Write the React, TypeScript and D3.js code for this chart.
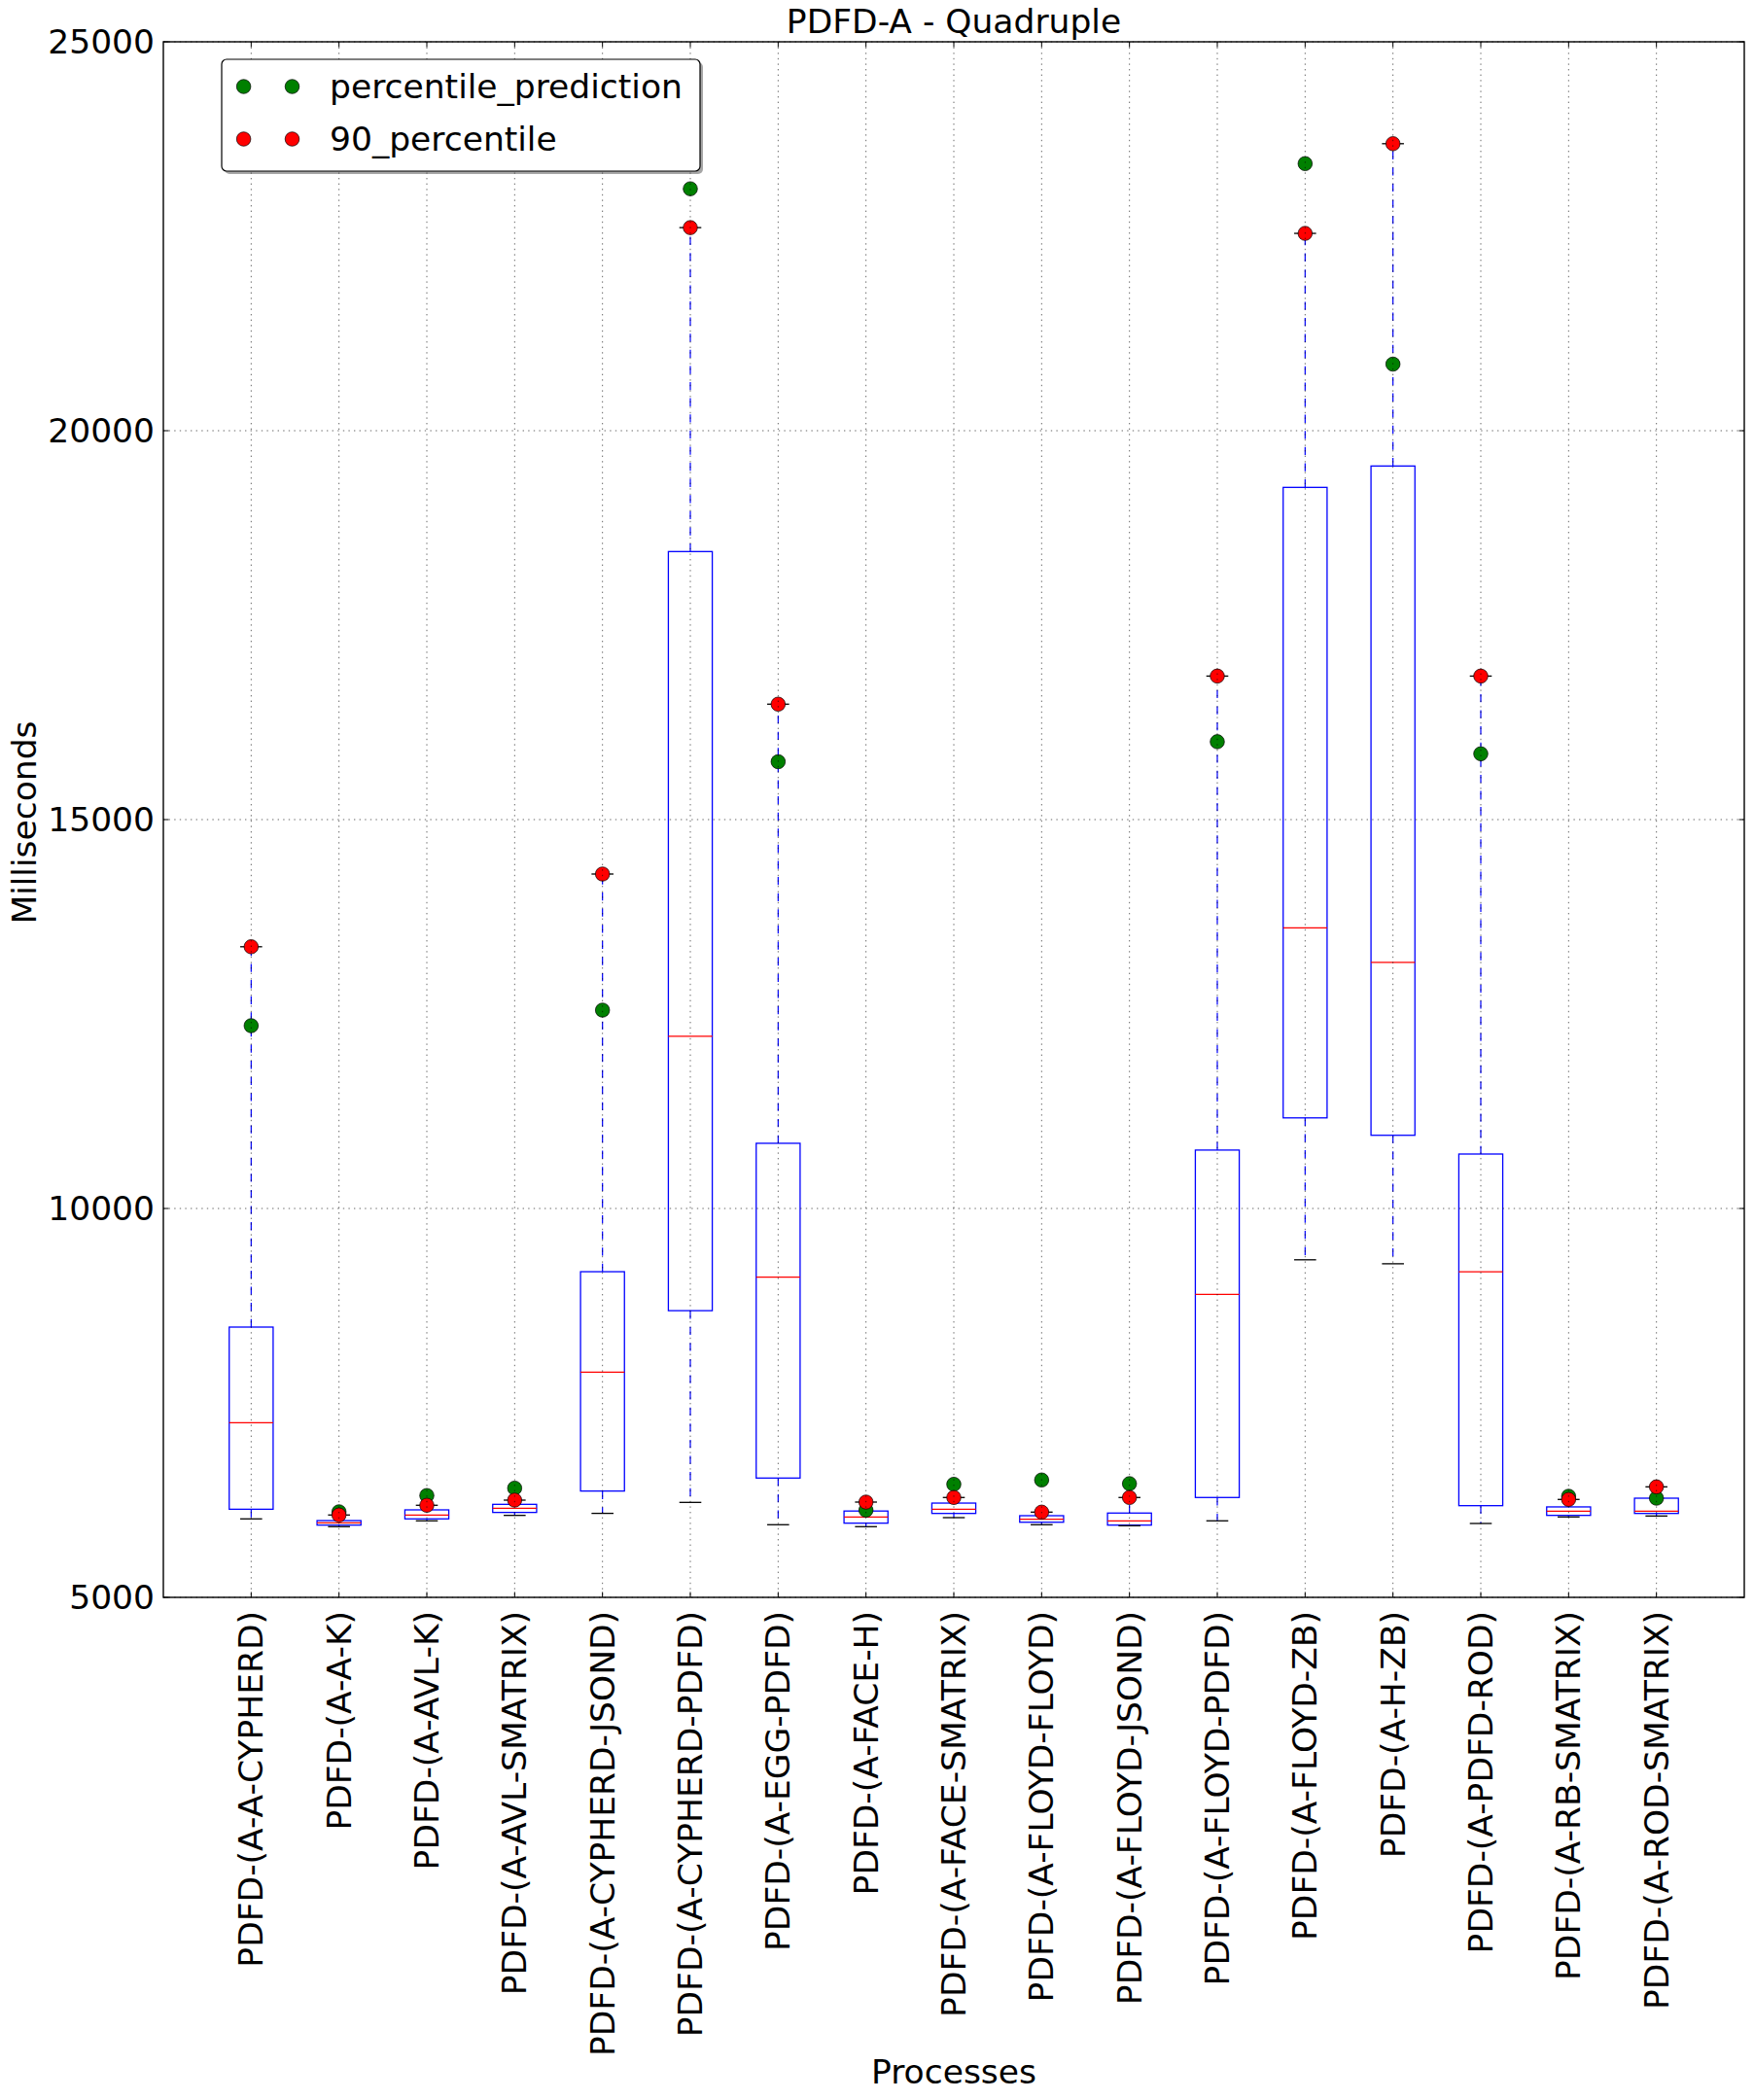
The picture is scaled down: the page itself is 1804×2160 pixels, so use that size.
import React from "react";
import * as d3 from "d3";

const categories = [
  "PDFD-(A-A-CYPHERD)",
  "PDFD-(A-A-K)",
  "PDFD-(A-AVL-K)",
  "PDFD-(A-AVL-SMATRIX)",
  "PDFD-(A-CYPHERD-JSOND)",
  "PDFD-(A-CYPHERD-PDFD)",
  "PDFD-(A-EGG-PDFD)",
  "PDFD-(A-FACE-H)",
  "PDFD-(A-FACE-SMATRIX)",
  "PDFD-(A-FLOYD-FLOYD)",
  "PDFD-(A-FLOYD-JSOND)",
  "PDFD-(A-FLOYD-PDFD)",
  "PDFD-(A-FLOYD-ZB)",
  "PDFD-(A-H-ZB)",
  "PDFD-(A-PDFD-ROD)",
  "PDFD-(A-RB-SMATRIX)",
  "PDFD-(A-ROD-SMATRIX)",
];

const whiskerLow = [6009, 5909, 5984, 6054, 6080, 6221, 5934, 5909, 6025, 5934, 5921, 5984, 9340, 9289, 5950, 6034, 6046];
const q1 = [6133, 5929, 6009, 6092, 6367, 8686, 6534, 5954, 6079, 5966, 5929, 6284, 11165, 10941, 6179, 6054, 6079];
const median = [7246, 5959, 6059, 6146, 7896, 12215, 9116, 6034, 6134, 6004, 5984, 8895, 13609, 13163, 9185, 6108, 6108];
const q3 = [8475, 5987, 6125, 6196, 9187, 18446, 10838, 6110, 6212, 6050, 6084, 10751, 19271, 19546, 10700, 6163, 6275];
const whiskerHigh = [13365, 6059, 6184, 6250, 14300, 22611, 16484, 6225, 6284, 6096, 6284, 16845, 22537, 23690, 16845, 6259, 6421];
const percentile90 = [13365, 6059, 6184, 6250, 14300, 22611, 16484, 6225, 6284, 6096, 6284, 16845, 22537, 23690, 16845, 6259, 6421];
const percentilePrediction = [12350, 6100, 6309, 6404, 12550, 23110, 15744, 6121, 6454, 6509, 6462, 16001, 23434, 20856, 15846, 6300, 6275];

const yTicks = [5000, 10000, 15000, 20000, 25000];

const W = 1804;
const H = 2160;
const L = 168, R = 1794, T = 43, B = 1643;
const FONT = "DejaVu Sans";
const FS = 34.5;

export default function App() {
  const x = d3.scaleLinear().domain([0, categories.length + 1]).range([L, R]);
  const y = d3.scaleLinear().domain([5000, 25000]).range([B, T]);
  const boxHalf = (x(0.5) - x(0)) / 2;
  const capHalf = boxHalf / 2;
  const idx = d3.range(categories.length);
  const tickLen = 5.5;
  const MR = 7.3;

  return (
    <svg width={W} height={H} style={{ position: "absolute", left: 0, top: 0, display: "block", background: "#fff" }}
      fontFamily={FONT}>
      <rect x={0} y={0} width={W} height={H} fill="#fff" />
      {/* boxes */}
      {idx.map((i) => {
        const cx = x(i + 1);
        return (
          <g key={"b" + i}>
            <line x1={cx} x2={cx} y1={y(q3[i])} y2={y(whiskerHigh[i])} stroke="#0000ff" strokeWidth={1.2} strokeDasharray="8.3 8.3" />
            <line x1={cx} x2={cx} y1={y(q1[i])} y2={y(whiskerLow[i])} stroke="#0000ff" strokeWidth={1.2} strokeDasharray="8.3 8.3" />
            <rect x={cx - boxHalf} y={y(q3[i])} width={boxHalf * 2} height={Math.max(0.5, y(q1[i]) - y(q3[i]))}
              fill="none" stroke="#0000ff" strokeWidth={1.3} />
            <line x1={cx - capHalf} x2={cx + capHalf} y1={y(whiskerHigh[i])} y2={y(whiskerHigh[i])} stroke="#000" strokeWidth={1.3} />
            <line x1={cx - capHalf} x2={cx + capHalf} y1={y(whiskerLow[i])} y2={y(whiskerLow[i])} stroke="#000" strokeWidth={1.3} />
            <line x1={cx - boxHalf} x2={cx + boxHalf} y1={y(median[i])} y2={y(median[i])} stroke="#ff0000" strokeWidth={1.3} />
          </g>
        );
      })}
      {/* prediction points */}
      {idx.map((i) => (
        <circle key={"g" + i} cx={x(i + 1)} cy={y(percentilePrediction[i])} r={MR} fill="#008000" stroke="#000" strokeWidth={0.7} />
      ))}
      {idx.map((i) => (
        <circle key={"r" + i} cx={x(i + 1)} cy={y(percentile90[i])} r={MR} fill="#ff0000" stroke="#000" strokeWidth={0.7} />
      ))}
      {/* grid */}
      {idx.map((i) => (
        <line key={"gx" + i} x1={x(i + 1)} x2={x(i + 1)} y1={T} y2={B} stroke="#000" strokeOpacity={0.75} strokeWidth={0.8} strokeDasharray="1.4 4.2" />
      ))}
      {yTicks.map((t) => (
        <line key={"gy" + t} x1={L} x2={R} y1={y(t)} y2={y(t)} stroke="#000" strokeOpacity={0.75} strokeWidth={0.8} strokeDasharray="1.4 4.2" />
      ))}
      {/* ticks */}
      {idx.map((i) => (
        <g key={"tx" + i}>
          <line x1={x(i + 1)} x2={x(i + 1)} y1={B} y2={B - tickLen} stroke="#000" strokeWidth={1} />
          <line x1={x(i + 1)} x2={x(i + 1)} y1={T} y2={T + tickLen} stroke="#000" strokeWidth={1} />
        </g>
      ))}
      {yTicks.map((t) => (
        <g key={"ty" + t}>
          <line x1={L} x2={L + tickLen} y1={y(t)} y2={y(t)} stroke="#000" strokeWidth={1} />
          <line x1={R} x2={R - tickLen} y1={y(t)} y2={y(t)} stroke="#000" strokeWidth={1} />
        </g>
      ))}
      {/* frame */}
      <rect x={L} y={T} width={R - L} height={B - T} fill="none" stroke="#000" strokeWidth={1.4} />
      {/* y tick labels */}
      {yTicks.map((t) => (
        <text key={"yl" + t} x={L - 9} y={y(t)} textAnchor="end" dominantBaseline="central" fontSize={FS} fill="#000">
          {t}
        </text>
      ))}
      {/* x tick labels */}
      {idx.map((i) => (
        <text key={"xl" + i} transform={`translate(${x(i + 1)},${B + 14}) rotate(-90)`} textAnchor="end"
          dominantBaseline="central" fontSize={FS} fill="#000">
          {categories[i]}
        </text>
      ))}
      {/* title and axis labels */}
      <text x={(L + R) / 2} y={33.5} textAnchor="middle" fontSize={FS} fill="#000">PDFD-A - Quadruple</text>
      <text x={(L + R) / 2} y={2143} textAnchor="middle" fontSize={FS} fill="#000">Processes</text>
      <text transform={`translate(37,${(T + B) / 2 + 3}) rotate(-90)`} textAnchor="middle" fontSize={FS} fill="#000">Milliseconds</text>
      {/* legend */}
      <g>
        <rect x={231} y={64} width={492} height={115} rx={5} fill="#4d4d4d" fillOpacity={0.5} />
        <rect x={228} y={61} width={492} height={115} rx={5} fill="#fff" stroke="#000" strokeWidth={1.2} />
        <circle cx={250.6} cy={89} r={MR} fill="#008000" stroke="#000" strokeWidth={0.7} />
        <circle cx={300.5} cy={89} r={MR} fill="#008000" stroke="#000" strokeWidth={0.7} />
        <text x={339} y={89} dominantBaseline="central" fontSize={FS} fill="#000">percentile_prediction</text>
        <circle cx={250.6} cy={143} r={MR} fill="#ff0000" stroke="#000" strokeWidth={0.7} />
        <circle cx={300.5} cy={143} r={MR} fill="#ff0000" stroke="#000" strokeWidth={0.7} />
        <text x={339} y={143} dominantBaseline="central" fontSize={FS} fill="#000">90_percentile</text>
      </g>
    </svg>
  );
}
